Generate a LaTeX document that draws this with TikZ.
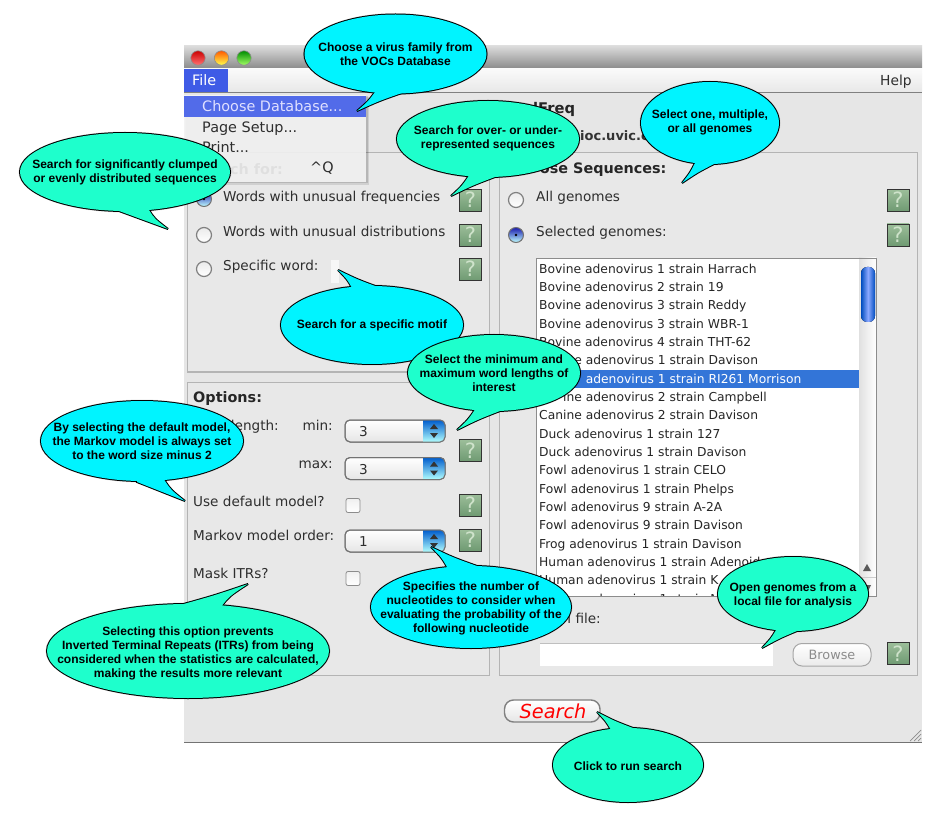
\documentclass[tikz,border=0pt]{standalone}
\usepackage{fontspec}
\setmainfont{Liberation Sans}
\newfontfamily\guif{DejaVu Sans}
\usetikzlibrary{calc}
\definecolor{bcyan}{HTML}{00F4FF}
\definecolor{bturq}{HTML}{1EFFCC}
\definecolor{winbg}{HTML}{E6E6E6}
\definecolor{panelbg}{HTML}{E8E8E8}
\definecolor{panelln}{HTML}{B4B4B4}
\definecolor{guitext}{HTML}{2E2E2E}
\definecolor{menublue}{HTML}{3F5BE6}
\definecolor{selblue}{HTML}{3375D8}
\definecolor{helptop}{HTML}{9CBE9A}
\definecolor{helpbot}{HTML}{6F9A72}
\definecolor{helpq}{HTML}{CFE3CB}
\tikzset{
  gui/.style={font=\guif\fontsize{13.6}{15}\selectfont,text=guitext,inner sep=0pt,anchor=mid west,yshift=-1.5pt},
  guir/.style={gui,anchor=mid east},
  guibold/.style={font=\guif\bfseries\fontsize{14.4}{16}\selectfont,text=black!85,inner sep=0pt,anchor=mid west,yshift=-2pt},
  menuitem/.style={gui,font=\guif\fontsize{14.4}{16}\selectfont},
  panelbox/.style={draw=panelln,line width=1pt,fill=panelbg},
  bubbletext/.style={font=\bfseries\fontsize{12}{14}\selectfont,align=center,inner sep=0pt,text=black},
  helpbox/.style={draw=black!80,line width=.8pt,minimum width=22pt,minimum height=22pt,text height=15pt,text depth=0pt,inner sep=0pt,
    top color=helptop,bottom color=helpbot,
    font=\guif\fontsize{21}{21}\selectfont,text=helpq},
  radiobox/.style={circle,draw=black!50,line width=1.2pt,minimum size=15pt,inner sep=0pt,top color=black!8,bottom color=white},
  radioon/.style={circle,draw=black!55,line width=1pt,minimum size=15pt,inner sep=0pt,top color=blue!65!black!90,bottom color=cyan!25!white},
  checkbox/.style={rounded corners=2pt,draw=black!45,line width=.8pt,top color=black!6,bottom color=white,minimum size=14pt,inner sep=0pt},
  spinbox/.style={rounded corners=5pt,draw=black!55,line width=1pt,top color=white,bottom color=black!10},
  listrow/.style={gui,font=\guif\fontsize{12.3}{14}\selectfont,text=black!85},
  arrowglyph/.style={fill=black!80}
}
% name, fill, centre, rx, ry, base1, tip, base2, text
\newcommand{\callout}[9]{%
  \coordinate (#1-c) at (#3);
  \coordinate (#1-a) at (#6);
  \coordinate (#1-t) at (#7);
  \coordinate (#1-b) at (#8);
  \coordinate (#1-p) at ($($(#1-a)!.5!(#1-t)$)!.07!(#1-b)$);
  \coordinate (#1-q) at ($($(#1-b)!.5!(#1-t)$)!.10!(#1-a)$);
  \begin{scope}[shift={(3,6)}]
    \foreach \w in {7,5,3,1}{
      \fill[black,opacity=.11] (#1-c) ellipse [x radius=#4pt+.5*\w pt-2pt,y radius=#5pt+.5*\w pt-2pt];
      \fill[black,opacity=.11] (#1-a) .. controls (#1-p) .. (#1-t) .. controls (#1-q) .. (#1-b) -- (#1-c) -- cycle;
    }
  \end{scope}
  \draw[black,line width=2pt] (#1-c) ellipse [x radius=#4pt,y radius=#5pt];
  \draw[black,line width=2pt,line join=miter,miter limit=3] (#1-a) .. controls (#1-p) .. (#1-t) .. controls (#1-q) .. (#1-b) -- (#1-c) -- cycle;
  \fill[#2] (#1-c) ellipse [x radius=#4pt,y radius=#5pt];
  \fill[#2] (#1-a) .. controls (#1-p) .. (#1-t) .. controls (#1-q) .. (#1-b) -- (#1-c) -- cycle;
  \node[bubbletext] (#1) at ($(#1-c)+(0,\bubbledy)$) {#9};
}
\newcommand{\bubbledy}{0}
\newcommand{\spinner}[3]{%
  \path[spinbox] (345,#2-11) rectangle (445,#2+11);
  \begin{scope}
    \clip[rounded corners=5pt] (345,#2-11) rectangle (445,#2+11);
    \fill[top color=blue!55!cyan!80!black,bottom color=cyan!30!white] (423,#2-11) rectangle (445,#2+11);
  \end{scope}
  \draw[rounded corners=5pt,draw=black!55,line width=1pt] (345,#2-11) rectangle (445,#2+11);
  \fill[arrowglyph] (434,#2-7) -- (438,#2-2) -- (430,#2-2) -- cycle;
  \fill[arrowglyph] (434,#2+7) -- (438,#2+2) -- (430,#2+2) -- cycle;
  \node[gui] (#1) at (359,#2+1.5) {#3};
}
\begin{document}
\begin{tikzpicture}[x=1pt,y=-1pt]
\useasboundingbox (0,0) rectangle (932,826);
\fill[white] (0,0) rectangle (932,826);
% window
\fill[winbg] (184,46) rectangle (922,743);
\draw[black!55,line width=1pt] (184,742.5) -- (922,742.5);
\fill[top color=black!14,bottom color=black!45] (184,46) rectangle (922,68);
\draw[black!65,line width=1pt] (184,68.5) -- (922,68.5);
\fill[top color=black!2,bottom color=black!9] (184,69) rectangle (922,92);
\draw[black!50,line width=.8pt] (184,92.5) -- (922,92.5);
\draw[black!45,line width=.6pt,top color=red!80!black,bottom color=red!55!white] (198,58) circle (7.2pt);
\draw[black!45,line width=.6pt,top color=orange!70!red,bottom color=yellow!70!white] (221.5,58) circle (7.2pt);
\draw[black!45,line width=.6pt,top color=green!55!black,bottom color=green!60!yellow!60!white] (244,58) circle (7.2pt);
\fill[menublue] (184,69) rectangle (228,92);
\node[menuitem,text=white] (filemenu) at (192,81) {File};
\node[menuitem,font=\guif\fontsize{13.8}{15}\selectfont] (helpmenu) at (880,81) {Help};
% heading fragments
\node[guibold,font=\guif\bfseries\fontsize{14.7}{16}\selectfont] (titlefrag) at (533,109) {lFreq};
\node[gui,font=\guif\bfseries\fontsize{13}{15}\selectfont,text=black!80] (urlfrag) at (580,136) {ioc.uvic.c};
% panels
\path[panelbox] (187,153) rectangle (489,372);
\path[panelbox] (187,382) rectangle (489,675);
\path[panelbox] (499,153) rectangle (917,675);
% search panel
\node[guibold] (searchfor) at (193,170) {\phantom{Sear}ch for:};
\node[radioon] (r1) at (204,199) {};
\fill[black] (204,199) circle (1.3pt);
\node[radiobox] (r2) at (204,235) {};
\node[radiobox] (r3) at (204,269) {};
\node[gui] (w1) at (223,197) {Words with unusual frequencies};
\node[gui] (w2) at (223,232) {Words with unusual distributions};
\node[gui] (w3) at (223,266) {Specific word:};
\fill[black!3] (331,260) rectangle (339,283);
\node[helpbox] (h1) at (470.5,200.5) {?};
\node[helpbox] (h2) at (470.5,235.5) {?};
\node[helpbox] (h3) at (470.5,269.5) {?};
% options panel
\node[guibold] (options) at (193,398) {Options:};
\node[guir] (wlen) at (279,426) {length:};
\node[guir] (minl) at (333,426) {min:};
\node[guir] (maxl) at (333,464) {max:};
\spinner{s1}{431}{3}
\spinner{s2}{468.5}{3}
\spinner{s3}{541}{1}
\node[gui] (udm) at (193,502) {Use default model?};
\node[gui] (mmo) at (193,536) {Markov model order:};
\node[gui] (mask) at (193,574) {Mask ITRs?};
\node[checkbox] (c1) at (353,505.5) {};
\node[checkbox] (c2) at (353,578.5) {};
\node[helpbox] (h4) at (470.5,450.5) {?};
\node[helpbox] (h5) at (470.5,505) {?};
\node[helpbox] (h6) at (470.5,540) {?};
% sequences panel
\node[guibold] (chooseseq) at (509,169) {\phantom{Cho}ose Sequences:};
\node[radiobox] (r4) at (516,200) {};
\node[radioon] (r5) at (516,235) {};
\fill[black] (516,235) circle (1.3pt);
\node[gui] (allg) at (536,197) {All genomes};
\node[gui] (selg) at (536,232) {Selected genomes:};
\node[helpbox] (h7) at (898,200.5) {?};
\node[helpbox] (h8) at (898,235) {?};
\node[helpbox] (h9) at (898,653.5) {?};
% list
\fill[white] (536,258) rectangle (876,596);
\fill[selblue] (536,370) rectangle (859,388);
\begin{scope}
  \clip (536,258) rectangle (876,596);
  \foreach \t [count=\i from 0] in {Bovine adenovirus 1 strain Harrach,Bovine adenovirus 2 strain 19,Bovine adenovirus 3 strain Reddy,Bovine adenovirus 3 strain WBR-1,Bovine adenovirus 4 strain THT-62,\phantom{Canin}e adenovirus 1 strain Davison,\phantom{Canine }adenovirus 1 strain RI261 Morrison,\phantom{Can}ine adenovirus 2 strain Campbell,Canine adenovirus 2 strain Davison,Duck adenovirus 1 strain 127,Duck adenovirus 1 strain Davison,Fowl adenovirus 1 strain CELO,Fowl adenovirus 1 strain Phelps,Fowl adenovirus 9 strain A-2A,Fowl adenovirus 9 strain Davison,Frog adenovirus 1 strain Davison,Human adenovirus 1 strain Adenoid,Human adenovirus 1 strain K,\phantom{Human }adenovirus 1 strain M}{
    \pgfmathsetmacro{\yy}{269+18.33*\i}
    \ifnum\i=6
      \node[listrow,text=white] (row\i) at (539,\yy) {\t};
    \else
      \node[listrow] (row\i) at (539,\yy) {\t};
    \fi
  }
\end{scope}
\fill[left color=black!12,right color=white] (859,258) rectangle (876,596);
\fill[rounded corners=6pt,left color=blue!60!cyan!75!black,right color=blue!60!cyan!75!black,middle color=cyan!25!blue!45!white] (861,267) rectangle (875,322);
\draw[black!20,line width=.6pt] (859,577) -- (876,577);
\fill[black!65] (867,564) -- (871,571) -- (863,571) -- cycle;
\fill[black!65] (867,593) -- (871,585) -- (863,585) -- cycle;
\draw[black!45,line width=.8pt] (536,258) rectangle (876,596);
% file row
\node[guir] (localf) at (601,619) {l file:};
\fill[white] (540,643) rectangle (773,666);
\draw[black!25,line width=.8pt] (540,643) -- (773,643);
\draw[black!35,rounded corners=9pt,line width=1pt,top color=white,bottom color=black!8] (793,643.5) rectangle (871,666);
\node[gui,anchor=center,text=black!45,font=\guif\fontsize{12.8}{15}\selectfont] (browse) at (832,653.5) {Browse};
% search button
\draw[black!50,rounded corners=9pt,line width=1.4pt,top color=white,bottom color=black!10] (504.5,700) rectangle (600,722);
\node[gui,anchor=center,text=red,font=\guif\itshape\fontsize{19.3}{22}\selectfont] (searchbtn) at (553,710) {Search};
% grip
\foreach \k in {3,7,11}{\draw[black!45,line width=.7pt] (921-\k,741) -- (921,741-\k);}
% drop-down menu
\fill[black,opacity=.10] (186,97) rectangle (369,185);
\fill[black,opacity=.12] (185,96) rectangle (367.5,183);
\fill[white!96!black,opacity=.9] (184,95) rectangle (366,182);
\fill[menublue!90!white] (184,96) rectangle (366,117);
\node[menuitem,text=white!88!blue] (m1) at (202,107) {Choose Database...};
\node[menuitem] (m2) at (202,128) {Page Setup...};
\node[menuitem] (m3) at (202,148) {Print...};
\node[menuitem] (m4) at (310,168) {\textasciicircum Q};
% callouts
\callout{cbmotif}{bcyan}{372,325}{91}{39}{352,288}{338,270}{378,287}{Search for a specific motif}
\callout{cbminmax}{bturq}{494,373}{86}{38}{474,411}{457,430}{500,411}{Select the minimum and\\maximum word lengths of\\interest}
\callout{cbvirus}{bcyan}{395.5,54}{91}{39.5}{375,92}{357,111}{402,93}{Choose a virus family from\\the VOCs Database}
\renewcommand{\bubbledy}{-1}
\callout{cbover}{bturq}{488,139}{91}{38}{468,177}{451,196}{495,177}{Search for over- or under-\\represented sequences}
\callout{cbgenomes}{bcyan}{710,123}{69}{41}{695,163}{682,183}{714,164}{Select one, multiple,\\or all genomes}
\renewcommand{\bubbledy}{0}
\callout{cbclump}{bturq}{125,172}{105}{39}{119,211}{168,229}{149,210}{Search for significantly clumped\\or evenly distributed sequences}
\callout{cbdefault}{bcyan}{142,441}{101}{40}{137,482}{185,501}{165,481}{By selecting the default model,\\the Markov model is always set\\to the word size minus 2}
\renewcommand{\bubbledy}{2}
\callout{cbmask}{bturq}{188,651}{141}{47}{180,605}{248,584}{221,607}{Selecting this option prevents\\Inverted Terminal Repeats (ITRs) from being\\considered when the statistics are calculated,\\making the results more relevant}
\renewcommand{\bubbledy}{1}
\callout{cbspec}{bcyan}{471,607}{100}{41}{447,567}{431,547}{477,566}{Specifies the number of\\nucleotides to consider when\\evaluating the probability of the\\following nucleotide}
\callout{cbopen}{bturq}{793,594}{75}{37}{776,630}{762,648}{797,631}{Open genomes from a\\local file for analysis}
\callout{cbclick}{bturq}{628,765}{75}{37}{611,730}{597,712}{633,728}{Click to run search}
\end{tikzpicture}
\end{document}
